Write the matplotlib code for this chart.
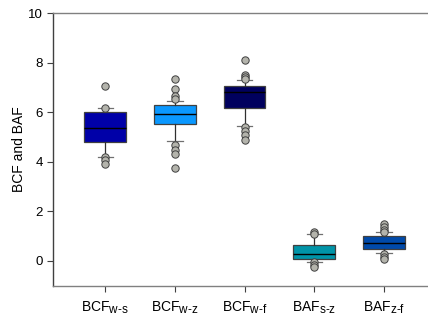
import numpy as np
import matplotlib
matplotlib.use("Agg")
import matplotlib.pyplot as plt
import matplotlib._mathtext as mathtext_internal

plt.rcParams['font.family'] = ['Liberation Sans', 'DejaVu Sans']
plt.rcParams['mathtext.fontset'] = 'custom'
plt.rcParams['mathtext.rm'] = 'Liberation Sans'
plt.rcParams['mathtext.it'] = 'Liberation Sans'
# subscripts in the reference are almost full size
mathtext_internal.SHRINK_FACTOR = 0.85

# values
labels = [r'BCF$_{\text{w-s}}$', r'BCF$_{\text{w-z}}$', r'BCF$_{\text{w-f}}$',
          r'BAF$_{\text{s-z}}$', r'BAF$_{\text{z-f}}$']
q1 = [4.79, 5.52, 6.17, 0.08, 0.50]
med = [5.36, 5.95, 6.80, 0.27, 0.71]
q3 = [6.00, 6.30, 7.07, 0.63, 1.00]
whislo = [4.21, 4.85, 5.44, -0.04, 0.31]
whishi = [6.18, 6.46, 7.30, 1.10, 1.16]
fliers = [
    [7.04, 6.18, 4.20, 4.07, 3.90],
    [7.33, 6.95, 6.64, 6.54, 4.66, 4.49, 4.33, 3.74],
    [8.12, 7.50, 7.43, 7.35, 5.42, 5.25, 5.08, 4.90],
    [1.18, 1.10, -0.05, -0.16, -0.23],
    [1.49, 1.38, 1.25, 1.16, 0.28, 0.17, 0.08],
]
colors = ['#0000A8', '#0A98FF', '#00005E', '#0094A8', '#004AAA']

stats = []
for i in range(len(labels)):
    stats.append(dict(med=med[i], q1=q1[i], q3=q3[i], whislo=whislo[i],
                      whishi=whishi[i], fliers=fliers[i]))

fig = plt.figure(figsize=(4.28, 3.2), dpi=100)
ax = fig.add_axes([0.124, 0.107, 0.89, 0.852])

bp = ax.bxp(stats, positions=np.arange(1, 6), widths=0.6, patch_artist=True,
            boxprops=dict(edgecolor='#404040', linewidth=0.9),
            medianprops=dict(color='black', linewidth=1.0),
            whiskerprops=dict(color='#303030', linewidth=0.9),
            capprops=dict(color='#707070', linewidth=0.9),
            capwidths=0.22,
            flierprops=dict(marker='o', markerfacecolor='#B4B4AC',
                            markeredgecolor='#404040', markersize=5.3,
                            markeredgewidth=0.7))
for patch, c in zip(bp['boxes'], colors):
    patch.set_facecolor(c)

ax.set_xlim(0.25, 5.72)
ax.set_ylim(-1, 10)
ax.set_yticks([0, 2, 4, 6, 8, 10])
ax.set_xticks(np.arange(1, 6))
ax.set_xticklabels(labels, fontsize=10)
ax.tick_params(axis='y', labelsize=9.5, direction='out', length=4, color='#404040')
ax.tick_params(axis='x', direction='out', length=4, color='#404040', pad=6)
ax.set_ylabel('BCF and BAF', fontsize=10, labelpad=1)

ax.spines['right'].set_visible(False)
ax.spines['top'].set_color('#808080')
ax.spines['bottom'].set_color('#808080')
ax.spines['left'].set_color('#404040')
for s in ax.spines.values():
    s.set_linewidth(1.0)

fig.savefig('out.png', dpi=100)
